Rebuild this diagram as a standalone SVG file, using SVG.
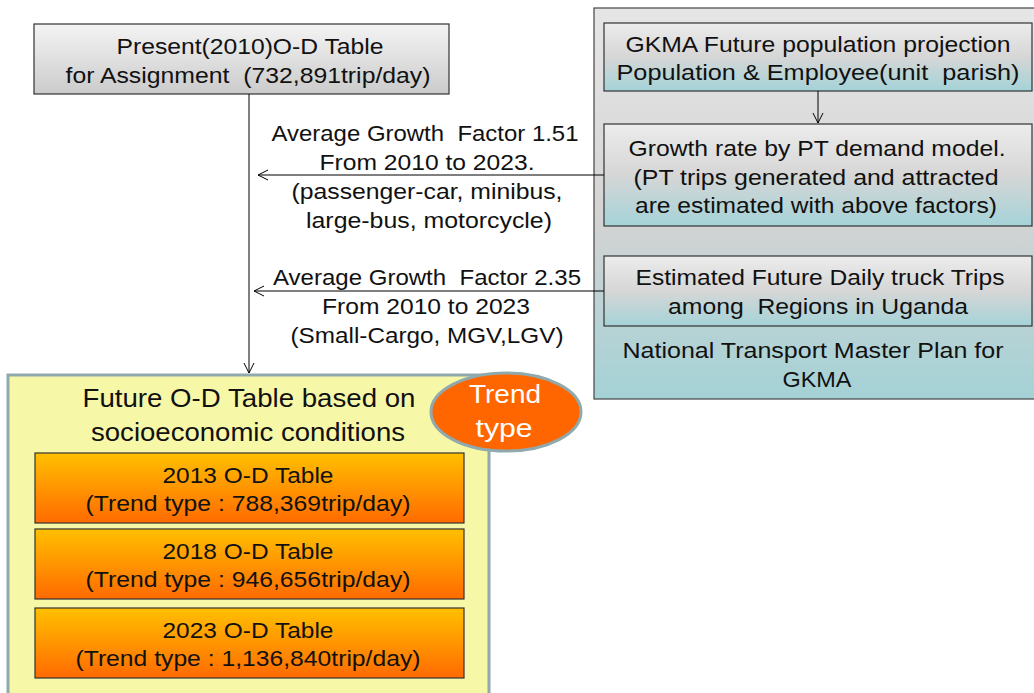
<svg xmlns="http://www.w3.org/2000/svg" width="1034" height="693" viewBox="0 0 1034 693">
  <defs>
    <linearGradient id="gGray" x1="0" y1="0" x2="0" y2="1">
      <stop offset="0" stop-color="#f4f4f4"/>
      <stop offset="1" stop-color="#cbcbcb"/>
    </linearGradient>
    <linearGradient id="gTeal" x1="0" y1="0" x2="0" y2="1">
      <stop offset="0" stop-color="#ececec"/>
      <stop offset="0.5" stop-color="#d6d6d6"/>
      <stop offset="1" stop-color="#a5d3d8"/>
    </linearGradient>
    <linearGradient id="gPanel" x1="0" y1="0" x2="0" y2="1">
      <stop offset="0" stop-color="#e6e6e6"/>
      <stop offset="0.55" stop-color="#d3d3d3"/>
      <stop offset="1" stop-color="#a4d2d6"/>
    </linearGradient>
    <linearGradient id="gOrange" x1="0" y1="0" x2="0" y2="1">
      <stop offset="0" stop-color="#ffc000"/>
      <stop offset="1" stop-color="#ff6a00"/>
    </linearGradient>
    <marker id="arrow" viewBox="0 0 12 12" refX="11" refY="6" markerWidth="12" markerHeight="12" markerUnits="userSpaceOnUse" orient="auto">
      <path d="M1,1 L11,6 L1,11" fill="none" stroke="#000" stroke-width="1"/>
    </marker>
    <style>
      text { font-family: "Liberation Sans", Arial, sans-serif; fill: #111; text-anchor: middle; white-space: pre; }
      .t21 { font-size: 22px; }
      .t24 { font-size: 25px; }
      .box { stroke: #333; stroke-width: 1.2; }
      .link { stroke: #000; stroke-width: 1; fill: none; }
    </style>
  </defs>

  <!-- outer panel: national transport master plan -->
  <g id="panel-ntmp">
    <rect x="594" y="8" width="446" height="391" fill="url(#gPanel)" stroke="#444" stroke-width="1.2"/>
    <text class="t21" x="813" y="358" textLength="381" lengthAdjust="spacingAndGlyphs">National Transport Master Plan for</text>
    <text class="t21" x="817" y="387" textLength="69" lengthAdjust="spacingAndGlyphs">GKMA</text>
  </g>

  <g id="node-population">
    <rect class="box" x="604" y="23" width="428" height="68" fill="url(#gTeal)"/>
    <text class="t21" x="818" y="52" textLength="385" lengthAdjust="spacingAndGlyphs">GKMA Future population projection</text>
    <text class="t21" x="818" y="80" textLength="403" lengthAdjust="spacingAndGlyphs">Population &amp; Employee(unit  parish)</text>
  </g>

  <g id="node-growth-rate">
    <rect class="box" x="604" y="124" width="428" height="102" fill="url(#gTeal)"/>
    <text class="t21" x="817" y="156" textLength="377" lengthAdjust="spacingAndGlyphs">Growth rate by PT demand model.</text>
    <text class="t21" x="816" y="185" textLength="365" lengthAdjust="spacingAndGlyphs">(PT trips generated and attracted</text>
    <text class="t21" x="816" y="213" textLength="362" lengthAdjust="spacingAndGlyphs">are estimated with above factors)</text>
  </g>

  <g id="node-truck">
    <rect class="box" x="604" y="256" width="428" height="70" fill="url(#gTeal)"/>
    <text class="t21" x="820" y="285" textLength="369" lengthAdjust="spacingAndGlyphs">Estimated Future Daily truck Trips</text>
    <text class="t21" x="818" y="314" textLength="300" lengthAdjust="spacingAndGlyphs">among  Regions in Uganda</text>
  </g>

  <g id="node-present">
    <rect class="box" x="34" y="24" width="415" height="70" fill="url(#gGray)"/>
    <text class="t21" x="250" y="54" textLength="267" lengthAdjust="spacingAndGlyphs">Present(2010)O-D Table</text>
    <text class="t21" x="248" y="83" textLength="365" lengthAdjust="spacingAndGlyphs">for Assignment  (732,891trip/day)</text>
  </g>

  <g id="node-future">
    <rect x="8" y="375" width="481" height="330" fill="#f7f7a8" stroke="#8fa9ad" stroke-width="3"/>
    <text class="t24" x="249" y="407" textLength="333" lengthAdjust="spacingAndGlyphs">Future O-D Table based on</text>
    <text class="t24" x="248" y="441" textLength="314" lengthAdjust="spacingAndGlyphs">socioeconomic conditions</text>
  </g>

  <g id="node-2013">
    <rect class="box" x="35" y="453" width="429" height="70" fill="url(#gOrange)"/>
    <text class="t21" x="248" y="483" textLength="171" lengthAdjust="spacingAndGlyphs">2013 O-D Table</text>
    <text class="t21" x="248" y="511" textLength="325" lengthAdjust="spacingAndGlyphs">(Trend type : 788,369trip/day)</text>
  </g>

  <g id="node-2018">
    <rect class="box" x="35" y="529" width="429" height="70" fill="url(#gOrange)"/>
    <text class="t21" x="248" y="559" textLength="171" lengthAdjust="spacingAndGlyphs">2018 O-D Table</text>
    <text class="t21" x="248" y="587" textLength="325" lengthAdjust="spacingAndGlyphs">(Trend type : 946,656trip/day)</text>
  </g>

  <g id="node-2023">
    <rect class="box" x="35" y="608" width="429" height="70" fill="url(#gOrange)"/>
    <text class="t21" x="248" y="638" textLength="171" lengthAdjust="spacingAndGlyphs">2023 O-D Table</text>
    <text class="t21" x="248" y="666" textLength="345" lengthAdjust="spacingAndGlyphs">(Trend type : 1,136,840trip/day)</text>
  </g>

  <g id="node-trend-badge">
    <ellipse cx="506" cy="412" rx="75" ry="39" fill="#ff6600" stroke="#8fa9ad" stroke-width="3"/>
    <text x="505" y="403" style="font-size:25px;fill:#fff" textLength="72" lengthAdjust="spacingAndGlyphs">Trend</text>
    <text x="504" y="437" style="font-size:25px;fill:#fff" textLength="57" lengthAdjust="spacingAndGlyphs">type</text>
  </g>

  <g id="connectors">
    <line class="link" x1="249" y1="94" x2="249" y2="373" marker-end="url(#arrow)"/>
    <line class="link" x1="818" y1="91" x2="818" y2="123" marker-end="url(#arrow)"/>
    <line class="link" x1="604" y1="175" x2="258" y2="175" marker-end="url(#arrow)"/>
    <line class="link" x1="604" y1="291" x2="254" y2="291" marker-end="url(#arrow)"/>
  </g>

  <g id="connector-labels">
    <text class="t21" x="425" y="141" textLength="307" lengthAdjust="spacingAndGlyphs">Average Growth  Factor 1.51</text>
    <text class="t21" x="427" y="170" textLength="215" lengthAdjust="spacingAndGlyphs">From 2010 to 2023.</text>
    <text class="t21" x="427" y="199" textLength="271" lengthAdjust="spacingAndGlyphs">(passenger-car, minibus,</text>
    <text class="t21" x="429" y="228" textLength="246" lengthAdjust="spacingAndGlyphs">large-bus, motorcycle)</text>
    <text class="t21" x="427" y="285" textLength="308" lengthAdjust="spacingAndGlyphs">Average Growth  Factor 2.35</text>
    <text class="t21" x="426" y="314" textLength="208" lengthAdjust="spacingAndGlyphs">From 2010 to 2023</text>
    <text class="t21" x="427" y="343" textLength="273" lengthAdjust="spacingAndGlyphs">(Small-Cargo, MGV,LGV)</text>
  </g>
</svg>
